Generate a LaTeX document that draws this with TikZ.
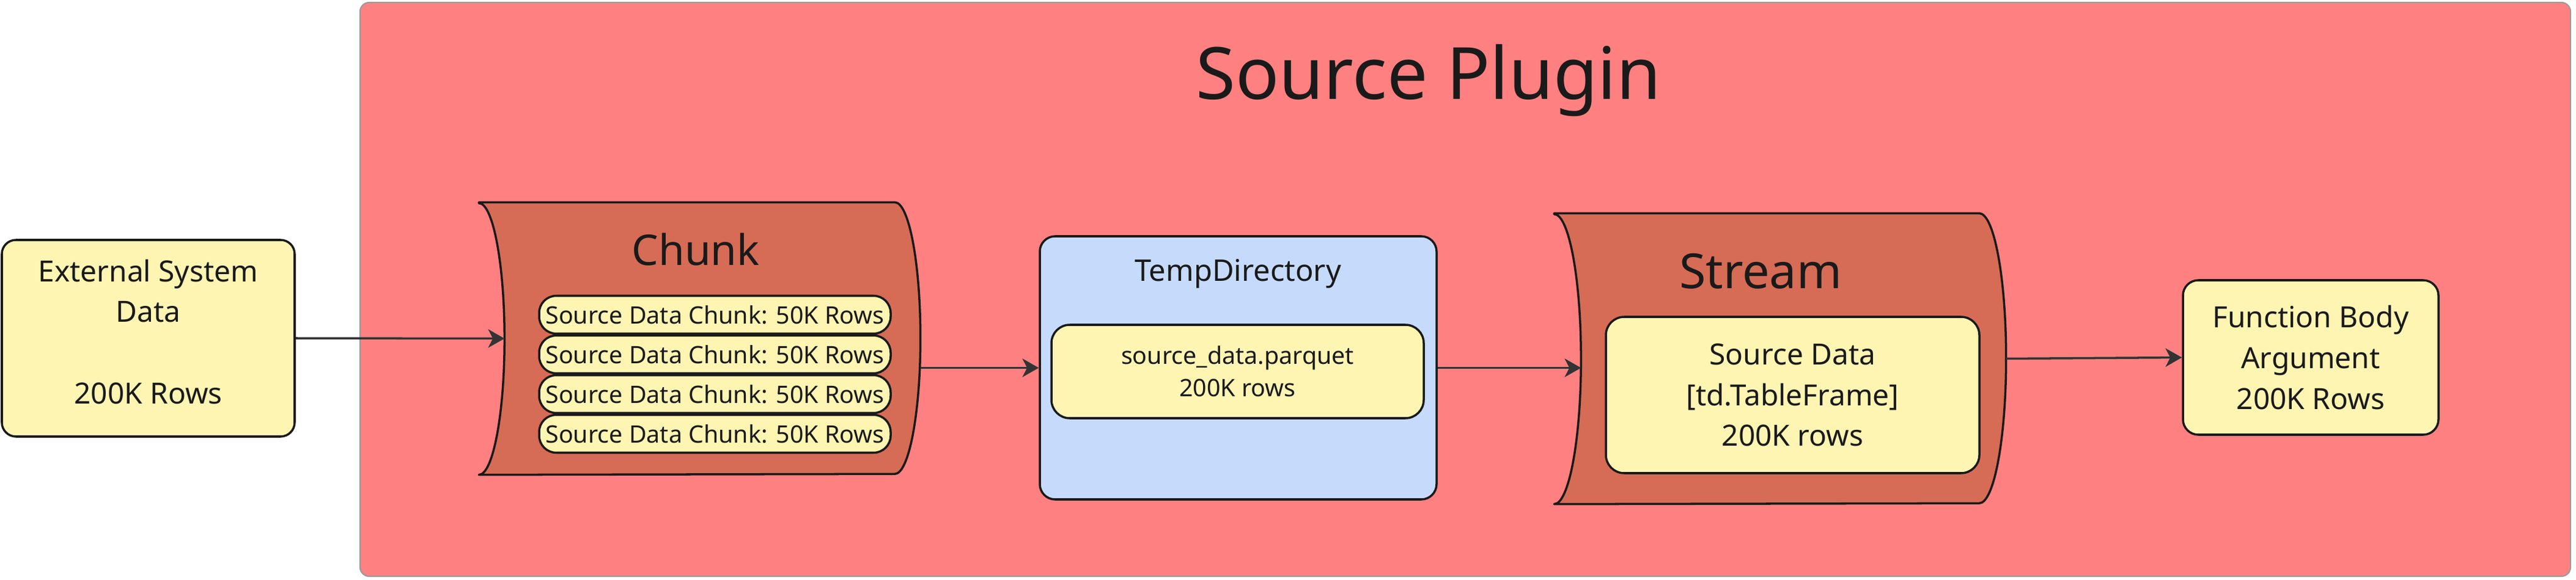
\documentclass[tikz,border=0pt]{standalone}
\usepackage{fontspec}
\setmainfont{Noto Sans}
\usetikzlibrary{arrows.meta}

\definecolor{pluginred}{HTML}{FF8080}
\definecolor{framegray}{HTML}{9A9A9A}
\definecolor{drumred}{HTML}{D66C55}
\definecolor{noteyellow}{HTML}{FFF5B3}
\definecolor{dirblue}{HTML}{C6DBFC}
\definecolor{inkgray}{HTML}{1A1A1A}
\definecolor{linkgray}{HTML}{333333}

\begin{document}
\begin{tikzpicture}[>={Stealth[length=7.6pt,width=8.6pt,inset=2.2pt]}, line join=round]
    \tikzstyle{box}=[draw=inkgray, line width=1pt, fill=noteyellow, rounded corners=0.23cm, align=center, text=inkgray, font=\fontsize{13.6}{19}\selectfont, inner sep=0pt]
    \tikzstyle{pill}=[box, rounded corners=0.28cm, minimum width=5.75cm, minimum height=0.62cm, font=\fontsize{11.2}{15}\selectfont]
    \tikzstyle{drum}=[inner sep=0pt]
    \tikzstyle{drumline}=[fill=drumred, draw=inkgray, line width=1pt]
    \tikzstyle{title}=[text=inkgray, anchor=base, inner sep=0pt]
    \tikzstyle{link}=[->, draw=linkgray, line width=1pt]

    \useasboundingbox (0,0) rectangle (42.14,9.49);
    % plugin frame
    \node[draw=framegray, line width=0.6pt, fill=pluginred, rounded corners=0.15cm, minimum width=36.16cm, minimum height=9.40cm] (S_plugin) at (23.97,4.75) {};
    \node[title, font=\fontsize{33.6}{40}\selectfont] (S_title) at (23.37,7.86) {Source Plugin};

    \node[box, minimum width=4.79cm, minimum height=3.22cm, text depth=0.22cm] (S_ext) at (2.425,3.95) {External System\\Data\\[19pt]200K Rows};

    % chunk drum
    \node[drum, minimum width=7.21cm, minimum height=4.45cm] (S_chunk) at (11.445,3.945) {};
    \filldraw[drumline] (S_chunk.north west) -- ([xshift=-0.42cm]S_chunk.north east)
        arc[start angle=90, end angle=-90, x radius=0.42cm, y radius=2.225cm]
        -- (S_chunk.south west)
        arc[start angle=-90, end angle=90, x radius=0.42cm, y radius=2.225cm] -- cycle;
    \node[title, font=\fontsize{19.7}{24}\selectfont] (S_chunktitle) at (11.38,5.15) {Chunk};
    \foreach \i in {1,...,4}
      \node[pill] (S_chunk\i) at (11.695,4.985-0.65*\i) {Source Data Chunk: 50K Rows};

    % temp directory
    \node[box, fill=dirblue, minimum width=6.49cm, minimum height=4.31cm, rounded corners=0.25cm] (S_temp) at (20.255,3.465) {};
    \node[title, font=\fontsize{13.9}{19}\selectfont] (S_temptitle) at (20.25,4.89) {TempDirectory};
    \node[box, minimum width=6.09cm, minimum height=1.53cm, rounded corners=0.3cm, font=\fontsize{11.2}{15}\selectfont] (S_parquet) at (20.245,3.405) {source\_data.parquet\\200K rows};

    % stream drum
    \node[drum, minimum width=7.38cm, minimum height=4.75cm] (S_stream) at (29.12,3.615) {};
    \filldraw[drumline] (S_stream.north west) -- ([xshift=-0.44cm]S_stream.north east)
        arc[start angle=90, end angle=-90, x radius=0.44cm, y radius=2.375cm]
        -- (S_stream.south west)
        arc[start angle=-90, end angle=90, x radius=0.44cm, y radius=2.375cm] -- cycle;
    \node[title, font=\fontsize{22.5}{27}\selectfont] (S_streamtitle) at (28.80,4.77) {Stream};
    \node[box, minimum width=6.11cm, minimum height=2.56cm, rounded corners=0.3cm] (S_data) at (29.325,3.02) {Source Data\\{[td.TableFrame]}\\200K rows};

    \node[box, minimum width=4.18cm, minimum height=2.53cm, rounded corners=0.25cm] (S_func) at (37.80,3.635) {Function Body\\Argument\\200K Rows};

    % links
    \draw[link] (S_ext.east) -- ([xshift=0.42cm]S_chunk.west);
    \draw[link] (S_chunk.east |- S_temp.west) -- (S_temp.west);
    \draw[link] (S_temp.east) -- ([xshift=0.44cm]S_stream.west |- S_temp.east);
    \draw[link] (S_stream.east) -- (S_func.west);
\end{tikzpicture}
\end{document}
